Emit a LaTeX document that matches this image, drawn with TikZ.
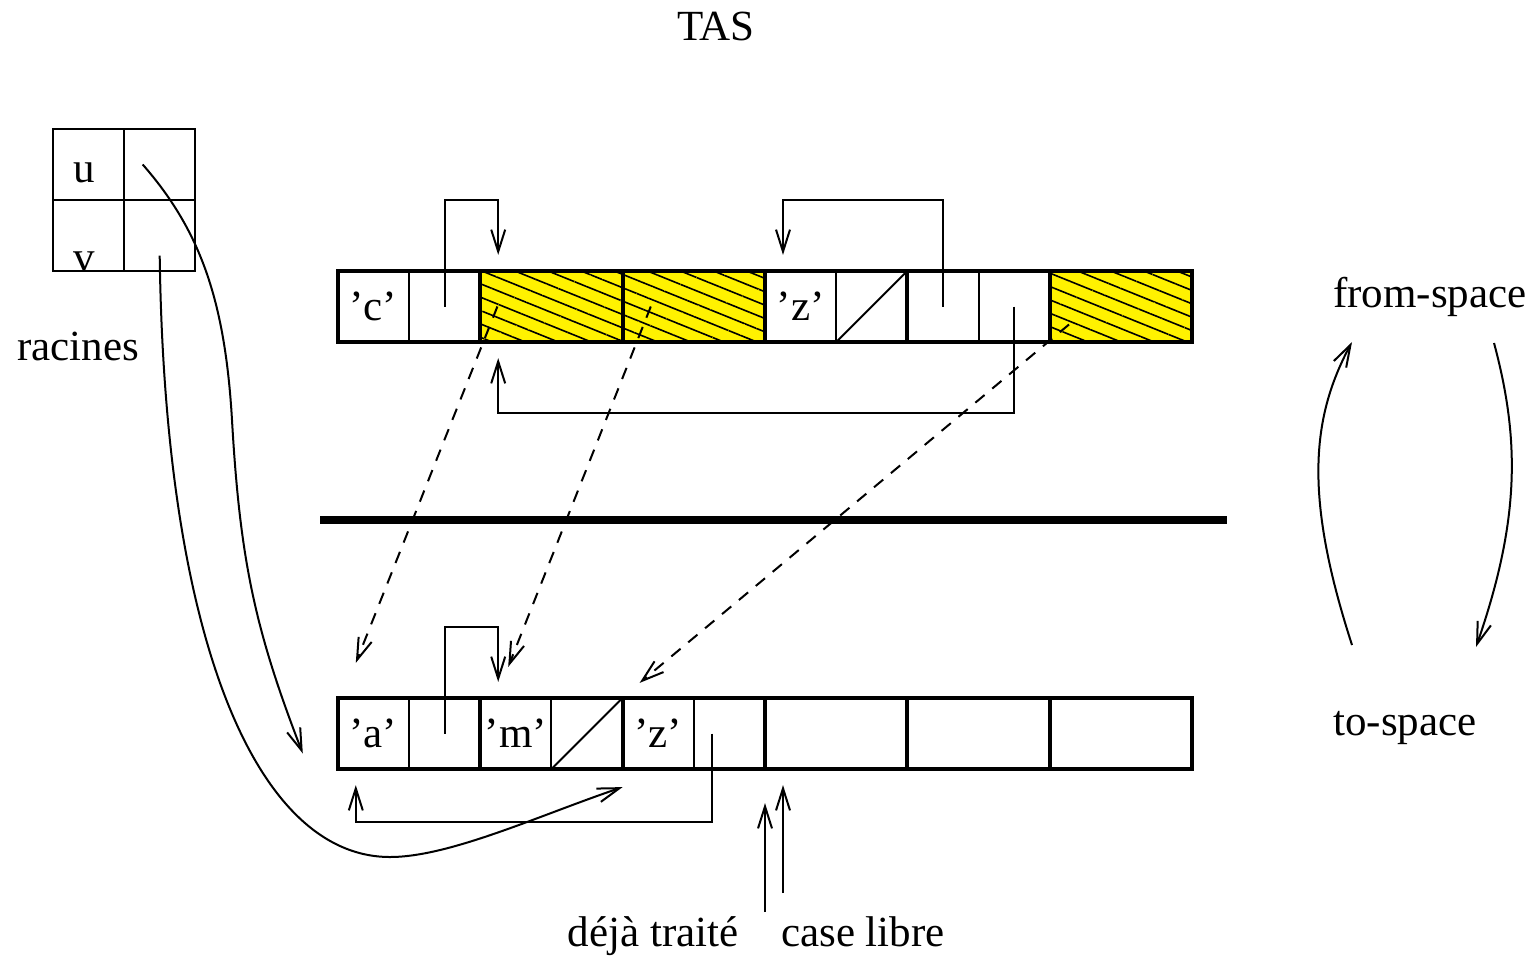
\documentclass[tikz,border=0pt]{standalone}
\usepackage{fontspec}
\setmainfont{Liberation Serif}
\usetikzlibrary{positioning,calc,arrows.meta,patterns.meta}

\tikzset{
    obj/.style={draw, line width=2pt, minimum width=71.2pt, minimum height=35.6pt, inner sep=0pt, outer sep=0pt},
    garbage/.style={obj, preaction={fill=yellow}, pattern={Lines[angle=-22,distance=6.2pt,line width=0.8pt]}},
    slot/.style={draw, line width=1pt, minimum size=35.6pt, inner sep=0pt, outer sep=0pt},
    half/.style={line width=1pt},
    ptr/.style={line width=1pt, -{Straight Barb[length=11pt,width=7pt]}},
    fwd/.style={ptr, dash pattern=on 6pt off 5pt},
    lbl/.style={inner sep=0pt}
}

\begin{document}
\begin{tikzpicture}[x=0.5pt, y=-0.5pt, font=\fontsize{21.5}{26}\selectfont]
\useasboundingbox (0,0) rectangle (1534,959);

% racines
\node [slot] (ru) at (88.5,164.5) {};
\node [slot, right=0pt of ru] (rup) {};
\node [slot, below=0pt of ru] (rv) {};
\node [slot, right=0pt of rv] (rvp) {};
\node [lbl, anchor=base] (lu) at (84,182) {u};
\node [lbl, anchor=base] (lv) at (84,271) {v};
\node [lbl, anchor=base] (racines) at (78,360) {racines};

% from-space
\node [obj] (f1) at (409,306.5) {};
\node [garbage, right=0pt of f1] (f2) {};
\node [garbage, right=0pt of f2] (f3) {};
\node [obj, right=0pt of f3] (f4) {};
\node [obj, right=0pt of f4] (f5) {};
\node [garbage, right=0pt of f5] (f6) {};
\draw [half] (f1.north) -- (f1.south);
\draw [half] (f4.north) -- (f4.south);
\draw [half] (f4.south) -- (f4.north east);
\draw [half] (f5.north) -- (f5.south);
\node at ($(f1.west)!0.25!(f1.east)$) {’c’};
\node at ($(f4.west)!0.25!(f4.east)$) {’z’};

% to-space
\node [obj] (t1) at (409,733.5) {};
\node [obj, right=0pt of t1] (t2) {};
\node [obj, right=0pt of t2] (t3) {};
\node [obj, right=0pt of t3] (t4) {};
\node [obj, right=0pt of t4] (t5) {};
\node [obj, right=0pt of t5] (t6) {};
\draw [half] (t1.north) -- (t1.south);
\draw [half] (t2.north) -- (t2.south);
\draw [half] (t2.south) -- (t2.north east);
\draw [half] (t3.north) -- (t3.south);
\node at ($(t1.west)!0.25!(t1.east)$) {’a’};
\node at ($(t2.west)!0.25!(t2.east)$) {’m’};
\node at ($(t3.west)!0.25!(t3.east)$) {’z’};

\draw [line width=4pt] (320,520) -- (1227,520);

% pointeurs du from-space
\draw [ptr] ($(f1.center)!0.5!(f1.east)$) -- ++(0,-106.5) -| ([xshift=9pt,yshift=8pt]f2.north west);
\draw [ptr] ($(f5.center)!0.5!(f5.west)$) -- ++(0,-106.5) -| ([xshift=9pt,yshift=8pt]f4.north west);
\draw [ptr] ($(f5.center)!0.5!(f5.east)$) -- ++(0,106.5) -| ([xshift=9pt,yshift=-8pt]f2.south west);

% copies
\draw [fwd] ([xshift=-27pt]f2.center) -- ([xshift=9pt,yshift=17.5pt]t1.north west);
\draw [fwd] ([xshift=-21.5pt]f3.center) -- ([xshift=14pt,yshift=15.5pt]t2.north west);
\draw [fwd] ([xshift=-26pt,yshift=-9pt]f6.center) -- ([xshift=8.5pt,yshift=7.5pt]t3.north west);

% pointeurs du to-space
\draw [ptr] ($(t1.center)!0.5!(t1.east)$) -- ++(0,-106.5) -| ([xshift=9pt,yshift=8pt]t2.north west);
\draw [ptr] ([xshift=9pt]t3.center) -- ++(0,88.5) -| ([xshift=9pt,yshift=-8pt]t1.south west);

% racines vers le to-space
\draw [ptr] ([xshift=-8.5pt]rup.center) .. controls (200,230) and (225,300) .. (232,420)
    .. controls (240,560) and (255,630) .. ([xshift=-17.5pt,yshift=-10pt]t1.west);
\draw [ptr] ([yshift=-10pt]rvp.center) .. controls (165,650) and (260,857) .. (390,857)
    .. controls (450,857) and (540,815) .. ([yshift=-9pt]t3.south west);

% scan et libre
\node [lbl, anchor=base] (deja) at (653,946) {déjà traité};
\node [lbl, anchor=base] (libre) at (863,946) {case libre};
\draw [ptr] ([yshift=-71.5pt]t4.south west) -- ([yshift=-17pt]t4.south west);
\draw [ptr] ([xshift=9pt,yshift=-62pt]t4.south west) -- ([xshift=9pt,yshift=-8pt]t4.south west);

% echange des espaces
\node [lbl, anchor=base] (tas) at (716,40) {TAS};
\node [lbl, anchor=base] (from) at (1430,307) {from-space};
\node [lbl, anchor=base] (to) at (1405,735) {to-space};
\coordinate (swapA) at (1352,645);
\coordinate (swapB) at (1352,342);
\coordinate (swapC) at (1494,343);
\coordinate (swapD) at (1476,647);
\draw [ptr] (swapA) .. controls (1305,500) and (1310,420) .. (swapB);
\draw [ptr] (swapC) .. controls (1520,440) and (1520,520) .. (swapD);
\end{tikzpicture}
\end{document}
